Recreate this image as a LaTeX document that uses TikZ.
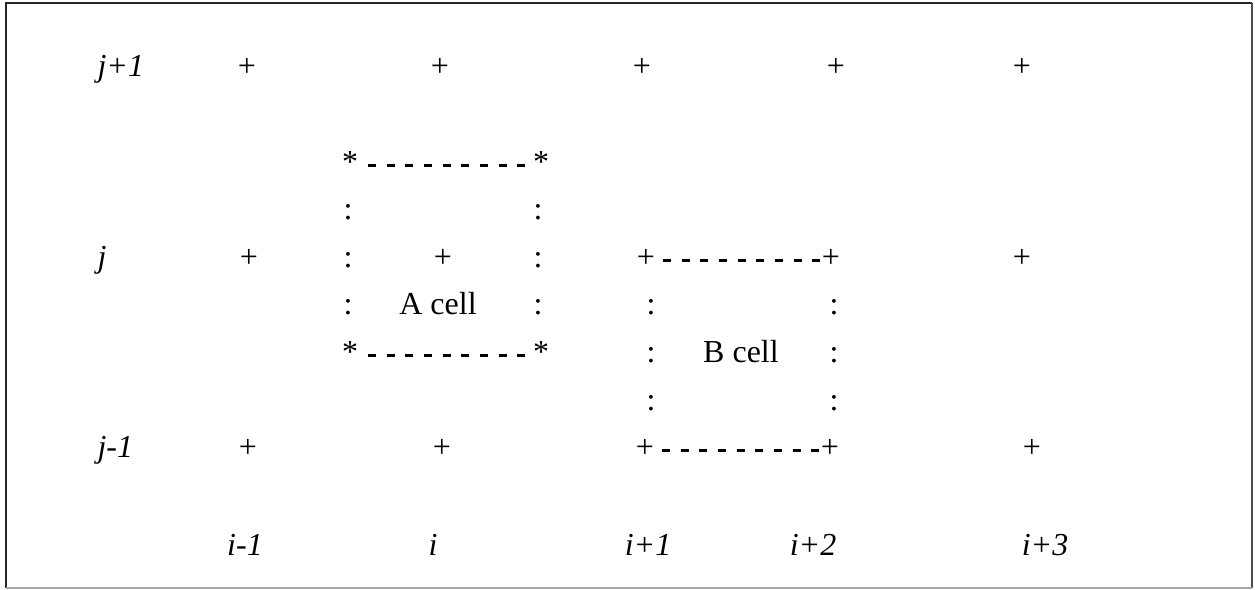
\documentclass[tikz,border=0pt]{standalone}
\usepackage{fontspec}
\setmainfont{Liberation Serif}
\newcommand\gridfont{\fontsize{12}{14}\selectfont}
\begin{document}
\begin{tikzpicture}[x=0.375pt,y=-0.375pt,every node/.style={font=\gridfont,inner sep=0pt,anchor=base},
  lbl/.style={font=\gridfont\itshape},
  celledge/.style={line width=1pt,dash pattern=on 3pt off 4pt}]
% Staggered grid points with an A cell and a B cell
\useasboundingbox (0,0) rectangle (1255,590);
\draw[line width=0.75pt,black!85] (6,588) -- (6,3) -- (1252,3);
\draw[line width=0.4pt,black!70] (1252,3) -- (1252,588);
\draw[line width=0.4pt,black!35] (6,588) -- (1252,588);
% grid rows j+1, j, j-1
\foreach \x [count=\n] in {247,440,642,836,1022} {\node (u\n) at (\x,77) {+};}
\foreach \x [count=\n] in {249,443,646,831,1022} {\node (m\n) at (\x,267.4) {+};}
\foreach \x [count=\n] in {248,442,645,830,1032} {\node (l\n) at (\x,457.8) {+};}
\node[lbl,anchor=base west] (rj1) at (97,77) {j+1};
\node[lbl,anchor=base west] (rj0) at (97,267.4) {j};
\node[lbl,anchor=base west] (rjm) at (97,457.8) {j-1};
% column labels
\foreach \x/\t [count=\n] in {245/i-1,433/i,648/i+1,813/i+2,1045/i+3} {\node[lbl] (c\n) at (\x,556) {\t};}
% A cell
\node (aTL) at (350,172.2) {*}; \node (aTR) at (541,172.2) {*};
\node (aBL) at (350,362.6) {*}; \node (aBR) at (541,362.6) {*};
\foreach \y [count=\n] in {219.8,267.4,315} {\node (al\n) at (348,\y) {:}; \node (ar\n) at (538,\y) {:};}
\draw[celledge] ([shift={(18,-7)}]aTL.base) -- ([shift={(-16,-7)}]aTR.base);
\draw[celledge] ([shift={(18,-7)}]aBL.base) -- ([shift={(-16,-7)}]aBR.base);
\node (acell) at (438,315) {A cell};
% B cell
\foreach \y [count=\n] in {315,362.6,410.2} {\node (bl\n) at (651,\y) {:}; \node (br\n) at (834,\y) {:};}
\draw[celledge] ([shift={(17,-7)}]m3.base) -- ([shift={(-9,-7)}]m4.base);
\draw[celledge] ([shift={(17,-7)}]l3.base) -- ([shift={(-9,-7)}]l4.base);
\node (bcell) at (741,362.6) {B cell};
\end{tikzpicture}
\end{document}
